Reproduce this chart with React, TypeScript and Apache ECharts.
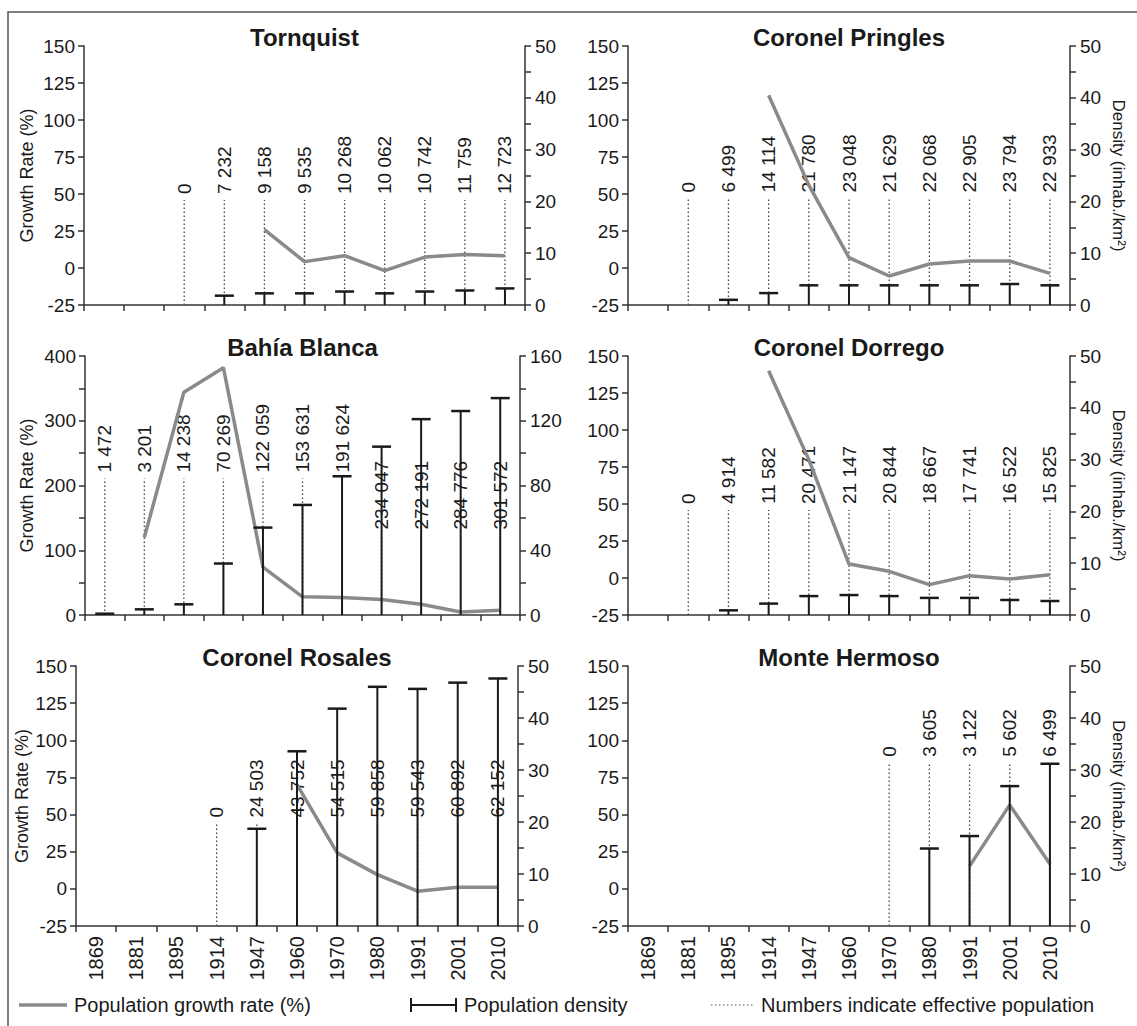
import React, { useEffect, useRef } from "react";
import * as echarts from "echarts";

const years = ["1869", "1881", "1895", "1914", "1947", "1960", "1970", "1980", "1991", "2001", "2010"];

const tornquistGrowth = [null, null, null, null, 26, 4.3, 8.3, -1.8, 7.4, 9.2, 8.3];
const tornquistDensity = [null, null, null, 1.8, 2.25, 2.25, 2.6, 2.25, 2.6, 2.8, 3.2];
const tornquistPop = [null, null, "0", "7 232", "9 158", "9 535", "10 268", "10 062", "10 742", "11 759", "12 723"];

const pringlesGrowth = [null, null, null, 116.7, 56, 7, -5.4, 2.7, 4.7, 4.7, -3.6];
const pringlesDensity = [null, null, 1.0, 2.3, 3.8, 3.8, 3.8, 3.8, 3.8, 4.05, 3.8];
const pringlesPop = [null, "0", "6 499", "14 114", "21 780", "23 048", "21 629", "22 068", "22 905", "23 794", "22 933"];

const bahiaGrowth = [null, 119.7, 344, 382, 74, 28, 27, 24, 16.5, 4.6, 7.2];
const bahiaDensity = [0.8, 3.5, 6.6, 31.8, 54, 68, 85.7, 104, 121, 126, 134];
const bahiaPop = ["1 472", "3 201", "14 238", "70 269", "122 059", "153 631", "191 624", "234 047", "272 191", "284 776", "301 572"];

const dorregoGrowth = [null, null, null, 140, 80, 9.4, 4.5, -4.5, 1.6, -0.7, 2.2];
const dorregoDensity = [null, null, 0.9, 2.2, 3.65, 3.85, 3.65, 3.3, 3.3, 2.9, 2.7];
const dorregoPop = [null, "0", "4 914", "11 582", "20 471", "21 147", "20 844", "18 667", "17 741", "16 522", "15 825"];

const rosalesGrowth = [null, null, null, null, null, 70.2, 24.2, 9.6, -1.6, 1.1, 1.1];
const rosalesDensity = [null, null, null, null, 18.7, 33.6, 41.8, 46, 45.6, 46.8, 47.6];
const rosalesPop = [null, null, null, "0", "24 503", "43 752", "54 515", "59 858", "59 543", "60 892", "62 152"];

const monteGrowth = [null, null, null, null, null, null, null, null, 15.3, 56.5, 16.8];
const monteDensity = [null, null, null, null, null, null, null, 14.9, 17.3, 26.9, 31.2];
const montePop = [null, null, null, null, null, null, "0", "3 605", "3 122", "5 602", "6 499"];

const FONT = "'Liberation Sans', Arial, Helvetica, sans-serif";
const TEXT = "#1a1a1a";
const AXIS = "#333333";
const GROWTH = "#8a8a8a";

const smallScale = { left: { min: -25, max: 150, interval: 25, every: 25 }, right: { min: 0, max: 50, interval: 5, every: 10 } };
const bigScale = { left: { min: 0, max: 400, interval: 50, every: 100 }, right: { min: 0, max: 160, interval: 20, every: 40 } };

const panels = [
  { name: "Tornquist", growth: tornquistGrowth, density: tornquistDensity, pop: tornquistPop, box: [84, 46, 525, 305], scale: smallScale, level: () => 50, years: false, leftName: true, rightName: false },
  { name: "Coronel Pringles", growth: pringlesGrowth, density: pringlesDensity, pop: pringlesPop, box: [628, 46, 1070, 305], scale: smallScale, level: () => 51, years: false, leftName: false, rightName: true },
  { name: "Bahía Blanca", growth: bahiaGrowth, density: bahiaDensity, pop: bahiaPop, box: [85, 356, 520, 615], scale: bigScale, level: (k: number) => (k >= 7 ? 132 : 220), years: false, leftName: true, rightName: false },
  { name: "Coronel Dorrego", growth: dorregoGrowth, density: dorregoDensity, pop: dorregoPop, box: [628, 356, 1070, 615], scale: smallScale, level: () => 50, years: false, leftName: false, rightName: true },
  { name: "Coronel Rosales", growth: rosalesGrowth, density: rosalesDensity, pop: rosalesPop, box: [76, 666, 518, 926], scale: smallScale, level: () => 48, years: true, leftName: true, rightName: false },
  { name: "Monte Hermoso", growth: monteGrowth, density: monteDensity, pop: montePop, box: [628, 666, 1070, 926], scale: smallScale, level: () => 89, years: true, leftName: false, rightName: true },
];

function buildOption() {
  const grid: any[] = [];
  const xAxis: any[] = [];
  const yAxis: any[] = [];
  const series: any[] = [];
  const graphic: any[] = [];

  graphic.push({
    type: "rect",
    shape: { x: 8, y: 12, width: 1150, height: 1040 },
    style: { fill: "none", stroke: "#555", lineWidth: 1.5 },
    silent: true,
  });

  panels.forEach((p, i) => {
    const [L, T, R, B] = p.box;
    grid.push({ left: L, top: T, width: R - L, height: B - T });
    xAxis.push({
      type: "category",
      gridIndex: i,
      data: years,
      boundaryGap: true,
      axisLine: { show: true, onZero: false, lineStyle: { color: AXIS, width: 1.5 } },
      axisTick: { show: true, interval: 0, length: 6, lineStyle: { color: AXIS, width: 1.5 } },
      axisLabel: { show: p.years, interval: 0, rotate: 90, margin: 10, fontSize: 20, color: TEXT, fontFamily: FONT },
      splitLine: { show: false },
    });
    const ls = p.scale.left;
    const rs = p.scale.right;
    yAxis.push({
      type: "value",
      gridIndex: i,
      position: "left",
      min: ls.min,
      max: ls.max,
      interval: ls.interval,
      axisLine: { show: true, lineStyle: { color: AXIS, width: 1.5 } },
      axisTick: { show: true, length: 6, lineStyle: { color: AXIS, width: 1.5 } },
      axisLabel: { margin: 9, fontSize: 19, color: TEXT, fontFamily: FONT, formatter: (v: number) => (v % ls.every === 0 ? String(v) : "") },
      splitLine: { show: false },
      name: p.leftName ? "Growth Rate (%)" : "",
      nameLocation: "middle",
      nameGap: L - 36,
      nameTextStyle: { fontSize: 18, color: TEXT, fontFamily: FONT },
    });
    yAxis.push({
      type: "value",
      gridIndex: i,
      position: "right",
      min: rs.min,
      max: rs.max,
      interval: rs.interval,
      axisLine: { show: true, lineStyle: { color: AXIS, width: 1.5 } },
      axisTick: { show: true, length: 6, lineStyle: { color: AXIS, width: 1.5 } },
      axisLabel: { margin: 10, fontSize: 19, color: TEXT, fontFamily: FONT, formatter: (v: number) => (v % rs.every === 0 ? String(v) : "") },
      splitLine: { show: false },
      name: p.rightName ? "Density (inhab./km²)" : "",
      nameLocation: "middle",
      nameRotate: -90,
      nameGap: 40,
      nameTextStyle: { fontSize: 17, color: TEXT, fontFamily: FONT },
    });

    // dotted lines + population labels
    const labelData: any[] = [];
    p.pop.forEach((t, k) => {
      if (t !== null) labelData.push([k, p.level(k)]);
    });
    series.push({
      type: "custom",
      xAxisIndex: i,
      yAxisIndex: 2 * i,
      data: labelData,
      z: 2,
      silent: true,
      renderItem: (params: any, api: any) => {
        const k = api.value(0);
        const lvl = api.value(1);
        const pt = api.coord([k, lvl]);
        const cs = params.coordSys;
        const bottom = cs.y + cs.height;
        return {
          type: "group",
          children: [
            {
              type: "line",
              shape: { x1: pt[0], y1: bottom, x2: pt[0], y2: pt[1] + 6 },
              style: { stroke: "#444", lineWidth: 1.3, lineDash: [1.5, 2.5] },
            },
            {
              type: "text",
              x: pt[0],
              y: pt[1],
              rotation: Math.PI / 2,
              style: { text: p.pop[k], fontSize: 19, fontFamily: FONT, fill: TEXT, align: "left", verticalAlign: "middle" },
            },
          ],
        };
      },
    });

    // growth line
    series.push({
      type: "line",
      xAxisIndex: i,
      yAxisIndex: 2 * i,
      data: p.growth,
      symbol: "none",
      connectNulls: false,
      lineStyle: { color: GROWTH, width: 3.5 },
      z: 3,
      silent: true,
    });

    // density T bars
    const densData: any[] = [];
    p.density.forEach((d, k) => {
      if (d !== null) densData.push([k, d]);
    });
    series.push({
      type: "custom",
      xAxisIndex: i,
      yAxisIndex: 2 * i + 1,
      data: densData,
      z: 4,
      silent: true,
      renderItem: (params: any, api: any) => {
        const k = api.value(0);
        const d = api.value(1);
        const pt = api.coord([k, d]);
        const cs = params.coordSys;
        const bottom = cs.y + cs.height;
        return {
          type: "group",
          children: [
            { type: "line", shape: { x1: pt[0], y1: bottom, x2: pt[0], y2: pt[1] }, style: { stroke: "#1a1a1a", lineWidth: 2 } },
            { type: "line", shape: { x1: pt[0] - 9.5, y1: pt[1], x2: pt[0] + 9.5, y2: pt[1] }, style: { stroke: "#1a1a1a", lineWidth: 2.5 } },
          ],
        };
      },
    });

    graphic.push({
      type: "text",
      x: (L + R) / 2,
      y: T - 9,
      style: { text: p.name, fontSize: 24, fontWeight: "bold", fontFamily: FONT, fill: TEXT, align: "center", verticalAlign: "middle" },
      silent: true,
    });
  });

  // legend
  const ly = 1005;
  graphic.push(
    { type: "line", shape: { x1: 19, y1: ly, x2: 67, y2: ly }, style: { stroke: GROWTH, lineWidth: 3.5 }, silent: true },
    { type: "text", x: 74, y: ly, style: { text: "Population growth rate (%)", fontSize: 20, fontFamily: FONT, fill: TEXT, align: "left", verticalAlign: "middle" }, silent: true },
    { type: "line", shape: { x1: 410, y1: ly, x2: 457, y2: ly }, style: { stroke: "#1a1a1a", lineWidth: 2 }, silent: true },
    { type: "line", shape: { x1: 411, y1: ly - 7, x2: 411, y2: ly + 7 }, style: { stroke: "#1a1a1a", lineWidth: 2 }, silent: true },
    { type: "line", shape: { x1: 456, y1: ly - 7, x2: 456, y2: ly + 7 }, style: { stroke: "#1a1a1a", lineWidth: 2 }, silent: true },
    { type: "text", x: 464, y: ly, style: { text: "Population density", fontSize: 20, fontFamily: FONT, fill: TEXT, align: "left", verticalAlign: "middle" }, silent: true },
    { type: "line", shape: { x1: 711, y1: ly, x2: 753, y2: ly }, style: { stroke: "#555", lineWidth: 1.2, lineDash: [1.5, 2.5] }, silent: true },
    { type: "text", x: 761, y: ly, style: { text: "Numbers indicate effective population", fontSize: 20, fontFamily: FONT, fill: TEXT, align: "left", verticalAlign: "middle" }, silent: true }
  );

  return {
    animation: false,
    backgroundColor: "#ffffff",
    textStyle: { fontFamily: FONT },
    grid,
    xAxis,
    yAxis,
    series,
    graphic,
  };
}

export default function App() {
  const ref = useRef<HTMLDivElement>(null);
  useEffect(() => {
    document.body.style.margin = "0";
    if (!ref.current) return;
    const chart = echarts.init(ref.current, undefined, { renderer: "svg" });
    chart.setOption(buildOption() as any);
    return () => chart.dispose();
  }, []);
  return <div ref={ref} style={{ width: 1137, height: 1026, background: "#fff" }} />;
}
